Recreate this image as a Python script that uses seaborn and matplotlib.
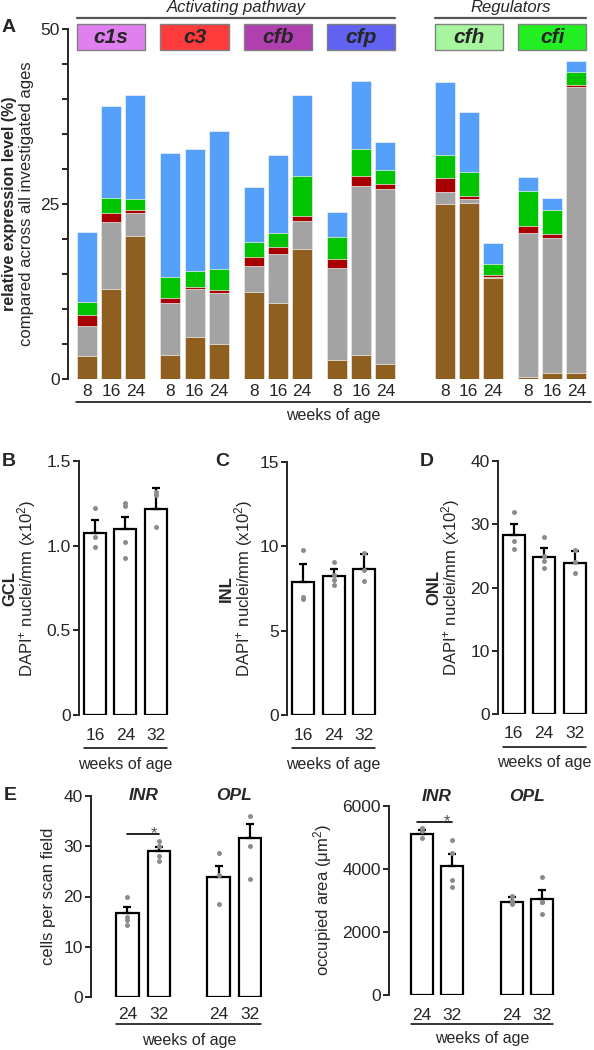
"""
Complement expression + retinal cell counts (panels A-E), seaborn version.
Values read off the reference figure.
"""

import numpy as np
import pandas as pd
import matplotlib
matplotlib.use("Agg")
import matplotlib.pyplot as plt
from matplotlib.patches import Rectangle
import seaborn as sns

# ---------------------------------------------------------------------------
# Data
# ---------------------------------------------------------------------------
genes = ["c1s", "c3", "cfb", "cfp", "cfh", "cfi"]
gene_box_colors = ["#e080f0", "#ff3b3b", "#b040b0", "#6262f2", "#a8f5a0", "#22ee22"]
ages_a = ["8", "16", "24"]

# panel A: share of each component, per gene x age (bottom -> top of stack)
seg_brown = [3.3, 12.9, 20.4, 3.4, 6.0, 5.0, 12.4, 10.9, 18.6,
             2.7, 3.5, 2.1, 25.0, 25.1, 14.4, 0.3, 0.8, 0.8]
seg_gray = [4.3, 9.6, 3.3, 7.4, 6.8, 7.3, 3.7, 7.0, 4.0,
            13.1, 24.1, 25.1, 1.7, 0.6, 0.2, 20.5, 19.3, 40.9]
seg_red = [1.5, 1.2, 0.5, 0.8, 0.3, 0.4, 1.3, 0.9, 0.7,
           1.3, 1.4, 0.7, 2.0, 0.5, 0.2, 1.1, 0.6, 0.3]
seg_green = [1.9, 2.2, 1.5, 3.0, 2.4, 3.0, 2.2, 2.1, 5.7,
             3.2, 3.8, 2.0, 3.3, 3.3, 1.7, 5.0, 3.5, 1.9]
seg_blue = [10.0, 13.1, 14.9, 17.7, 17.4, 19.8, 7.9, 11.1, 11.6,
            3.5, 9.8, 3.9, 10.4, 8.7, 3.0, 2.0, 1.6, 1.5]
layer_colors = ["#8f5f20", "#a3a3a3", "#a80000", "#00c400", "#55a0fb"]

# panels B-D: DAPI+ nuclei per layer
ages_bcd = ["16", "24", "32"]
gcl_mean = [1.073, 1.097, 1.217]
gcl_sem = [0.079, 0.074, 0.122]
gcl_pts = [[1.224, 1.053, 0.99], [1.25, 1.235, 1.024, 0.929], [1.319, 1.30, 1.109]]
inl_mean = [7.91, 8.27, 8.66]
inl_sem = [1.02, 0.39, 0.91]
inl_pts = [[9.76, 7.0, 6.9], [9.1, 8.3, 8.0, 7.7], [9.6, 8.6, 7.95]]
onl_mean = [28.3, 24.85, 23.9]
onl_sem = [1.8, 1.35, 1.8]
onl_pts = [[31.9, 27.4, 26.1], [28.0, 25.0, 24.2, 23.1], [25.9, 24.0, 22.3]]

# panel E: microglia in INR / OPL
regions_e = ["INR", "OPL"]
ages_e = ["24", "32", "24", "32"]
cells_mean = [16.8, 29.0, 23.8, 31.7]
cells_sem = [1.1, 0.8, 2.2, 2.7]
cells_pts = [[20.0, 16.0, 15.3, 14.4], [31.1, 30.0, 28.0, 27.0],
             [28.6, 24.2, 18.6], [36.1, 30.0, 23.5]]
area_mean = [5110, 4095, 2952, 3058]
area_sem = [140, 380, 150, 275]
area_pts = [[5290, 5200, 4980], [4910, 4517, 3650, 3439],
            [3150, 3000, 2900], [3746, 2952, 2952, 2561]]

# ---------------------------------------------------------------------------
# Style
# ---------------------------------------------------------------------------
sns.set_style("ticks")
plt.rcParams["font.family"] = ["Liberation Sans", "DejaVu Sans"]
plt.rcParams["mathtext.fontset"] = "custom"
plt.rcParams["mathtext.rm"] = "Liberation Sans"
plt.rcParams["mathtext.it"] = "Liberation Sans:italic"
plt.rcParams["mathtext.bf"] = "Liberation Sans:bold"
plt.rcParams["mathtext.default"] = "regular"
plt.rcParams["axes.linewidth"] = 1.4
plt.rcParams["ytick.major.width"] = 1.4
plt.rcParams["ytick.major.size"] = 4
plt.rcParams["font.size"] = 12

W, H = 594, 1050
fig = plt.figure(figsize=(W / 100, H / 100), dpi=100)


def px_axes(left, top, right, bottom):
    return fig.add_axes([left / W, 1 - bottom / H, (right - left) / W, (bottom - top) / H])


def below(ax, px):
    # pixel offset under the axes bottom -> axes fraction
    return -px / (ax.get_position().height * H)


def fig_text(x, y, s, **kw):
    fig.text(x / W, 1 - y / H, s, **kw)


def age_axis(ax, pos, labels, width, pad, line_px, label_px, ext=(0.0, 0.0)):
    ax.set_xticks(pos)
    ax.set_xticklabels(labels)
    ax.tick_params(axis="x", length=0, pad=pad, labelsize=12.5)
    x0 = pos[0] - width / 2 - ext[0]
    x1 = pos[-1] + width / 2 + ext[1]
    tr = ax.get_xaxis_transform()
    ax.plot([x0, x1], [below(ax, line_px)] * 2, transform=tr, clip_on=False,
            color="black", lw=1.1)
    ax.text((x0 + x1) / 2, below(ax, label_px), "weeks of age", transform=tr,
            ha="center", va="center", fontsize=11.5)
    sns.despine(ax=ax, bottom=True)


def mean_bars(ax, pos, means, sems, points, width=0.72):
    sns.barplot(x=pos, y=means, native_scale=True, orient="x", color="white",
                edgecolor="black", linewidth=1.6, width=width, saturation=1,
                errorbar=None, ax=ax)
    ax.errorbar(pos, means, yerr=[np.zeros(len(means)), sems], fmt="none",
                ecolor="black", elinewidth=1.6, capsize=3.2, capthick=1.6, zorder=3)
    df = pd.DataFrame([(p, v) for p, vals in zip(pos, points) for v in vals],
                      columns=["x", "y"])
    sns.stripplot(data=df, x="x", y="y", native_scale=True, orient="x", jitter=False,
                  color="#8c8c8c", size=3.6, linewidth=0, zorder=4, ax=ax)
    ax.set_xlabel("")
    ax.set_ylabel("")
    ax.tick_params(axis="y", labelsize=12.5, pad=2)


# ---------------------------------------------------------------------------
# A: stacked relative expression
# ---------------------------------------------------------------------------
axA = px_axes(68, 29, 592, 379)
xpos = []
for g in range(len(genes)):
    start = g * 3.45 + (1.0 if g >= 4 else 0.0)
    xpos += [start + i for i in range(len(ages_a))]
xpos = np.array(xpos)

layers = np.array([seg_brown, seg_gray, seg_red, seg_green, seg_blue])
tops = np.cumsum(layers, axis=0)
for k in range(len(layers) - 1, -1, -1):
    sns.barplot(x=xpos, y=tops[k], native_scale=True, orient="x", color=layer_colors[k],
                saturation=1, width=0.83, edgecolor="#f2f2f2", linewidth=0.5,
                errorbar=None, ax=axA)

axA.set_xlim(-0.79, 20.9)
axA.set_ylim(0, 50)
axA.set_yticks(range(0, 51, 5))
axA.set_yticklabels([str(v) if v % 25 == 0 else "" for v in range(0, 51, 5)])
axA.tick_params(axis="y", labelsize=12.5, pad=2)
axA.set_ylabel("")
age_axis(axA, xpos, ages_a * len(genes), 0.83, 3.5, 22.7, 36.6, ext=(0.05, 0.2))

# gene boxes + group headers above the bars
for g, name in enumerate(genes):
    x0 = xpos[3 * g] - 0.415
    axA.add_patch(Rectangle((x0, 47.0), 2.83, 3.7, facecolor=gene_box_colors[g],
                            edgecolor="#808080", lw=1.0, clip_on=False, zorder=5))
    axA.text(xpos[3 * g + 1], 48.8, name, ha="center", va="center", fontsize=15,
             fontweight="bold", fontstyle="italic", zorder=6, clip_on=False)

for label, g0, g1 in [("Activating pathway", 0, 3), ("Regulators", 4, 5)]:
    x0 = xpos[3 * g0] - 0.415
    x1 = xpos[3 * g1 + 2] + 0.415
    axA.plot([x0, x1], [51.6, 51.6], color="#555555", lw=1.6, clip_on=False)
    axA.text((x0 + x1) / 2, 53.1, label, ha="center", va="center", fontsize=12,
             fontstyle="italic", clip_on=False)

fig_text(9, 27, "A", fontsize=14, fontweight="bold", ha="center", va="center")
fig_text(10, 204, "relative expression level (%)", rotation=90, fontsize=11.5,
         fontweight="bold", ha="center", va="center")
fig_text(27, 204, "compared across all investigated ages", rotation=90, fontsize=12,
         ha="center", va="center")

# ---------------------------------------------------------------------------
# B-D: DAPI+ nuclei in GCL / INL / ONL
# ---------------------------------------------------------------------------
pos3 = np.arange(len(ages_bcd))
dapi_label = r"DAPI$^{+}$ nuclei/mm (x10$^{2}$)"
panels = [
    ("B", "GCL", (79, 461, 172, 715), (-0.52, 2.53), 1.5, [0, 0.5, 1.0, 1.5],
     ["0", "0.5", "1.0", "1.5"], gcl_mean, gcl_sem, gcl_pts, 9, 10, 27),
    ("C", "INL", (287, 462, 380, 715), (-0.53, 2.52), 15, [0, 5, 10, 15],
     ["0", "5", "10", "15"], inl_mean, inl_sem, inl_pts, 222, 226, 244),
    ("D", "ONL", (498, 461, 591, 714), (-0.51, 2.54), 40, [0, 10, 20, 30, 40],
     ["0", "10", "20", "30", "40"], onl_mean, onl_sem, onl_pts, 427, 434, 451),
]
for letter, layer, box, xl, ymax, yt, ytl, m, s, pts, lx, bx, nx in panels:
    ax = px_axes(*box)
    mean_bars(ax, pos3, m, s, pts)
    ax.set_xlim(*xl)
    ax.set_ylim(0, ymax)
    ax.set_yticks(yt)
    ax.set_yticklabels(ytl)
    age_axis(ax, pos3, ages_bcd, 0.72, 9.0, 33, 49)
    yc = (box[1] + box[3]) / 2
    fig_text(lx, 462, letter, fontsize=14, fontweight="bold", ha="center", va="center")
    fig_text(bx, yc, layer, rotation=90, fontsize=12, fontweight="bold",
             ha="center", va="center")
    fig_text(nx, yc, dapi_label, rotation=90, fontsize=12, ha="center", va="center")

# ---------------------------------------------------------------------------
# E: cells per scan field / occupied area
# ---------------------------------------------------------------------------
e_panels = [
    ((91, 796, 262, 997), 2.9, (-1.16, 4.28), 40, [0, 10, 20, 30, 40],
     cells_mean, cells_sem, cells_pts, 32.5, (0.0, 1.0), 0.85, 7.5, 27, 43,
     "cells per scan field", 48, 1.0),
    ((389, 806, 560, 995), 3.0, (-1.09, 4.6), 6000, [0, 2000, 4000, 6000],
     area_mean, area_sem, area_pts, 5500, (-0.15, 1.0), 0.83, 9.0, 29, 43,
     r"occupied area (μm$^{2}$)", 323, 1.05),
]
for (box, step, xl, ymax, yt, m, s, pts, sig_y, sig_x, star_x, pad,
     line_px, lab_px, ylab, ylab_x, title_y) in e_panels:
    ax = px_axes(*box)
    pos = np.array([g * step + i for g in range(len(regions_e)) for i in range(2)])
    mean_bars(ax, pos, m, s, pts)
    ax.set_xlim(*xl)
    ax.set_ylim(0, ymax)
    ax.set_yticks(yt)
    ax.set_yticklabels([str(v) for v in yt])
    age_axis(ax, pos, ages_e, 0.72, pad, line_px, lab_px)
    ax.plot(sig_x, [sig_y, sig_y], color="black", lw=1.2)
    ax.text(star_x, sig_y, "*", ha="center", va="center", fontsize=12, color="#555555")
    for g, region in enumerate(regions_e):
        ax.text(pos[2 * g:2 * g + 2].mean(), title_y, region, transform=ax.get_xaxis_transform(),
                ha="center", va="center", fontsize=12.5, fontweight="bold",
                fontstyle="italic", clip_on=False)
    fig_text(ylab_x, (box[1] + box[3]) / 2, ylab, rotation=90, fontsize=12,
             ha="center", va="center")

fig_text(10, 796, "E", fontsize=14, fontweight="bold", ha="center", va="center")

plt.savefig("out.png", dpi=100)
plt.close()
